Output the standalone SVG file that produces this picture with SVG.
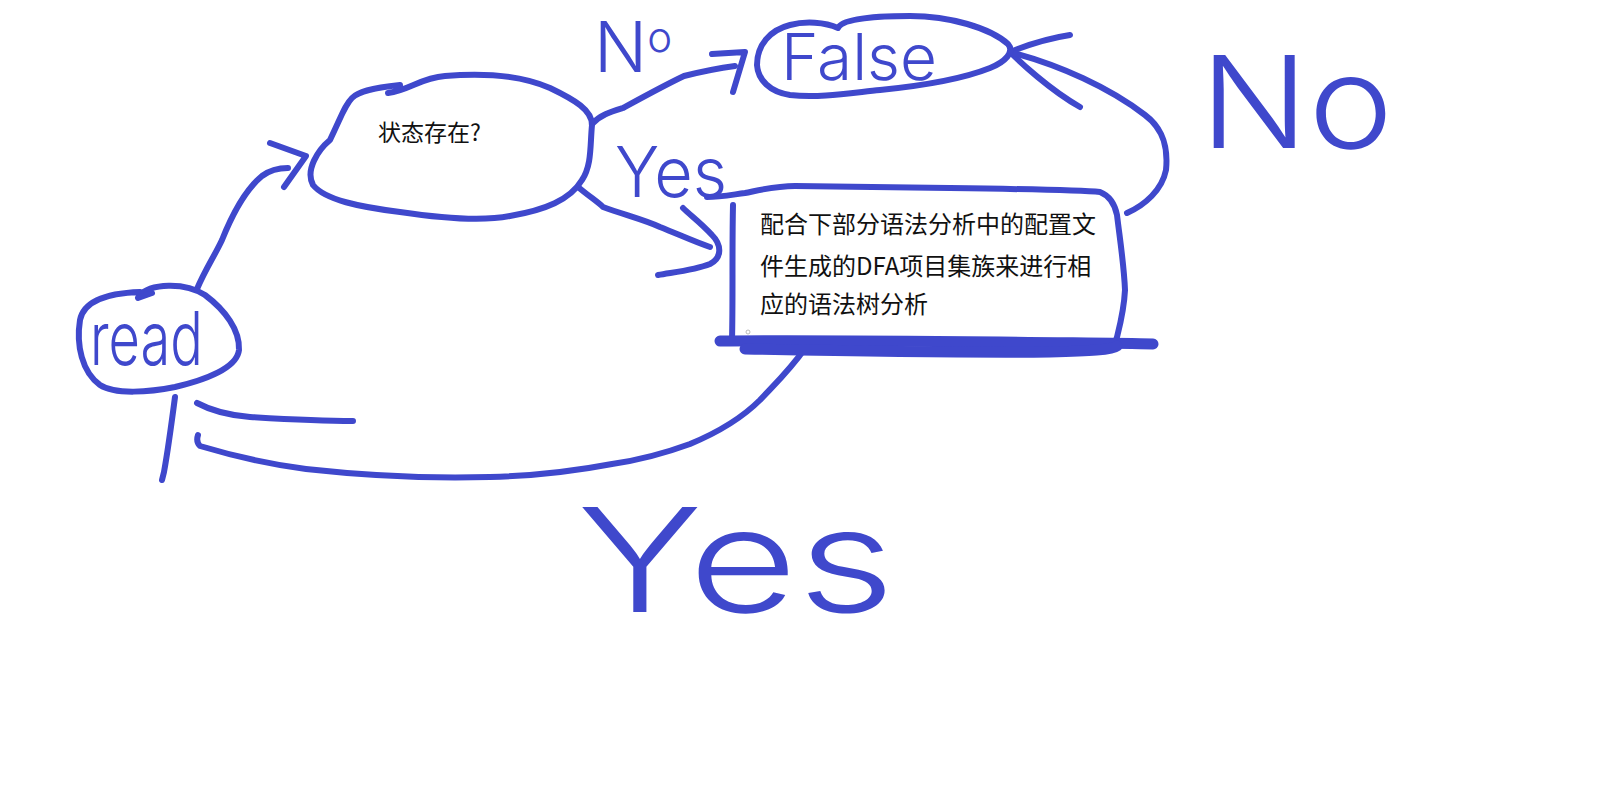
<svg xmlns="http://www.w3.org/2000/svg" width="1600" height="800" viewBox="0 0 1600 800">
<style>
.ink{fill:none;stroke:#3f48cc;stroke-width:6;stroke-linecap:round;stroke-linejoin:round}
.heavy{fill:none;stroke:#3f48cc;stroke-width:11;stroke-linecap:round;stroke-linejoin:round}
.hand{fill:#3f48cc;font-family:Inter,"Liberation Sans","DejaVu Sans",sans-serif;font-weight:300}
.cjk{fill:#111;font-family:"Noto Sans CJK SC","Noto Sans",sans-serif}
</style>
<rect width="1600" height="800" fill="#fff"/>
<g id="connectors">
<path class="ink" d="M197,289 C205,270 215,255 222,240 C232,215 245,190 262,176 C270,170 280,168 288,168"/>
<path class="ink" d="M270,143 L306,156 L284,187"/>
<path class="ink" d="M592,124 C600,115 610,112 623,108 C645,96 665,85 684,76 C700,72 720,68 735,66"/>
<path class="ink" d="M712,54 L745,52 L733,92"/>
<path class="ink" d="M1010,52 C1030,44 1050,38 1070,35"/>
<path class="ink" d="M1010,52 C1020,62 1050,90 1080,107"/>
<path class="ink" d="M1010,52 C1060,65 1110,88 1145,115 C1165,130 1168,150 1166,170 C1162,190 1145,205 1127,213"/>
<path class="ink" d="M578,187 C590,197 598,202 603,207 C625,215 645,220 660,227 C680,235 695,242 710,247"/>
<path class="ink" d="M683,208 C690,215 700,222 712,235 C722,245 722,258 710,264 C695,270 675,272 658,275"/>
<path class="ink" d="M806,347 C790,370 776,383 760,400 C740,420 714,434 690,444 C660,455 640,460 612,464 C570,472 530,476 490,477 C420,479 360,475 306,469 C260,463 230,455 200,446 C196,442 197,438 198,435"/>
<path class="ink" d="M175,397 C172,420 168,450 164,472 L162,480"/>
<path class="ink" d="M197,403 C210,410 225,415 250,417 C300,420 330,421 353,421"/>
</g>
<g id="node-read">
<path class="ink" d="M139,296 C150,283 185,282 205,295 C225,310 240,330 239,350 C237,368 205,380 175,387 C150,392 115,395 100,385 C82,372 76,345 80,320 C84,300 110,293 140,292"/>
<path class="ink" d="M138,298 L152,293"/>
<text class="hand" x="90" y="365" font-size="74" textLength="113" lengthAdjust="spacingAndGlyphs">read</text>
</g>
<g id="node-exists">
<path class="ink" d="M388,93 C410,90 420,78 445,76 C480,73 520,75 550,88 C575,100 592,110 592,125 C590,145 592,165 582,180 C570,200 545,210 510,216 C480,222 440,218 400,212 C360,207 325,200 313,185 C305,170 318,150 330,140 C342,115 345,105 352,98 C358,92 370,88 400,85"/>
<text class="cjk" x="378" y="141" font-size="23">状态存在?</text>
</g>
<g id="node-false">
<path class="ink" d="M838,28 C842,18 880,16 910,16 C950,16 990,28 1008,44 C1015,52 1005,62 990,68 C960,80 920,86 880,90 C850,93 820,98 790,95 C770,92 758,80 757,65 C757,45 770,30 790,25 C805,21 825,22 838,28"/>
<text class="hand" x="781" y="80" font-size="64" textLength="156" lengthAdjust="spacingAndGlyphs">False</text>
</g>
<g id="node-dfa">
<path class="ink" d="M707,197 C720,197 730,195 745,193 C760,190 775,186 795,186 C850,187 900,187 950,188 C1020,189 1080,190 1100,192 C1110,196 1115,205 1117,215 C1120,240 1124,265 1125,290 C1124,310 1120,325 1117,337 C1115,345 1112,348 1090,351"/>
<path class="ink" d="M733,205 C732,250 733,300 732,340"/>
<path class="heavy" d="M720,341 C800,340 900,341 1000,342 C1080,343 1120,343 1153,344"/>
<path class="heavy" d="M745,349 C850,351 950,353 1050,352 C1090,351 1112,350 1117,346"/>
<circle cx="748" cy="332" r="2" fill="none" stroke="#aaa" stroke-width="0.8"/>
<text class="cjk" font-size="24"><tspan x="760" y="233">配合下部分语法分析中的配置文</tspan><tspan x="760" y="275">件生成的DFA项目集族来进行相</tspan><tspan x="760" y="313">应的语法树分析</tspan></text>
</g>
<g id="labels">
<text class="hand" x="594" y="72" font-size="70">N<tspan font-size="42" dy="-20">o</tspan></text>
<text class="hand" x="615" y="197" font-size="70" textLength="112" lengthAdjust="spacingAndGlyphs">Yes</text>
<text class="hand" x="1200" y="148" font-size="128" textLength="193" lengthAdjust="spacingAndGlyphs">No</text>
<text class="hand" x="577" y="612" font-size="145" textLength="318" lengthAdjust="spacingAndGlyphs">Yes</text>
</g>
</svg>
